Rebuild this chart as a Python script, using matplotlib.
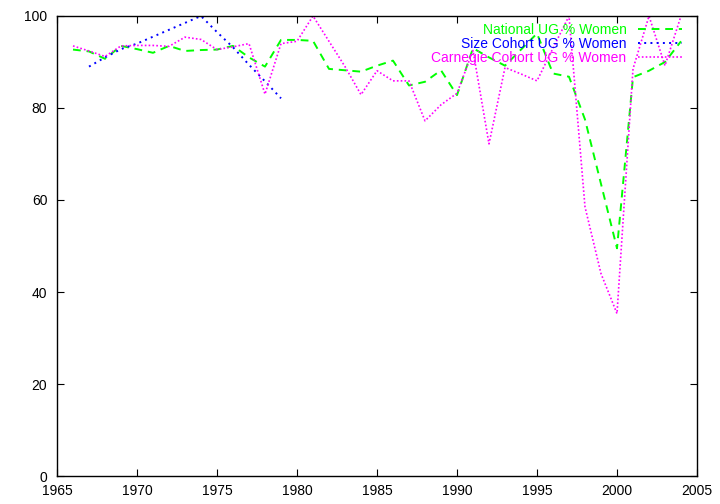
import numpy as np
import matplotlib
matplotlib.use("Agg")
import matplotlib.pyplot as plt

plt.rcParams['font.family'] = ['Liberation Sans', 'DejaVu Sans']
plt.rcParams['font.size'] = 10

# national undergrad % women, 1966-2004
national_years = list(range(1966, 2005))
national = [92.7, 92.3, 90.7, 93.5, 92.8, 92.0, 93.5, 92.4, 92.6, 92.7,
            93.5, 91.0, 89.0, 94.8, 94.8, 94.6, 88.5, 88.2, 87.9, 89.2,
            90.3, 84.9, 85.7, 88.2, 82.8, 93.0, 91.0, 89.2, 92.7, 96.2,
            87.5, 86.8, 77.5, 63.5, 49.5, 86.7, 88.1, 90.0, 94.5]

# size cohort, 1967-1979
size_years = list(range(1967, 1980))
size_cohort = [89.0, 91.0, 92.8, 94.0, 95.5, 97.0, 98.5, 100.0,
               96.5, 93.2, 89.4, 85.8, 82.1]

# carnegie cohort, 1966-2004
carnegie_years = list(range(1966, 2005))
carnegie = [93.5, 92.4, 91.2, 93.5, 93.6, 93.6, 93.4, 95.4, 94.9, 92.7,
            93.3, 94.0, 83.0, 94.0, 94.5, 100.0, 94.5, 89.0, 82.9, 88.1,
            85.9, 85.9, 77.2, 80.7, 83.2, 92.5, 72.2, 88.8, 87.4, 85.9,
            93.0, 100.0, 58.5, 44.0, 35.3, 88.5, 100.0, 89.2, 100.0]

fig = plt.figure(figsize=(7.2, 5.04), dpi=100)
ax = fig.add_axes([57/720, 28/504, 640/720, 460/504])

ax.plot(national_years, national, color='#00ff00', lw=1.4,
        dashes=(4, 3), label='National UG % Women')
ax.plot(size_years, size_cohort, color='#0000ff', lw=1.4,
        dashes=(1, 2.2), label='Size Cohort UG % Women')
ax.plot(carnegie_years, carnegie, color='#ff00ff', lw=1.2,
        dashes=(1, 1.3), label='Carnegie Cohort UG % Women')

ax.set_xlim(1965, 2005)
ax.set_ylim(0, 100)
ax.set_xticks(range(1965, 2006, 5))
ax.set_yticks(range(0, 101, 20))
ax.tick_params(direction='in', length=5, top=True, right=True, pad=6)
ax.tick_params(axis='y', pad=7)
for s in ax.spines.values():
    s.set_linewidth(1.0)

ax.legend(loc='upper right', bbox_to_anchor=(682/720, 1 - 23/504),
          bbox_transform=fig.transFigure, frameon=False, markerfirst=False,
          labelcolor='linecolor', handlelength=3.2, handletextpad=0.8,
          borderpad=0, borderaxespad=0, labelspacing=0.0, fontsize=10)

fig.savefig('out.png', dpi=100)
